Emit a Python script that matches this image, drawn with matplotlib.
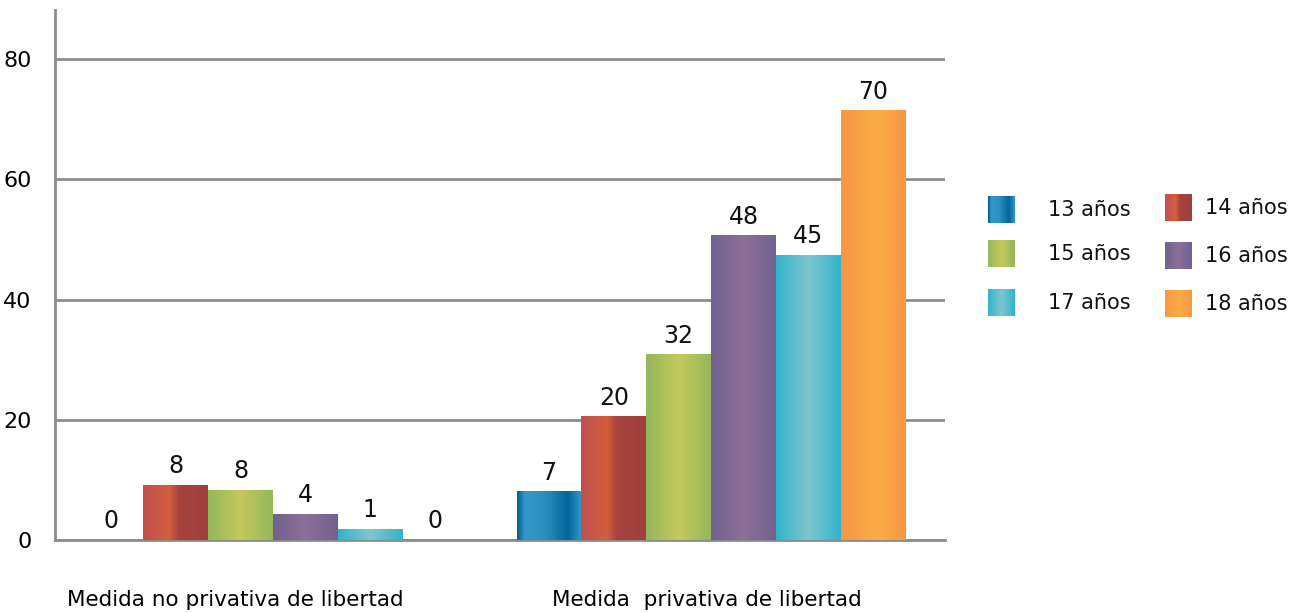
import numpy as np
import matplotlib
matplotlib.use("Agg")
import matplotlib.pyplot as plt
from matplotlib.colors import to_rgb

# Data
categories = ["Medida no privativa de libertad", "Medida  privativa de libertad"]
series = ["13 años", "14 años", "15 años", "16 años", "17 años", "18 años"]
# drawn bar heights (as they appear on the axis)
heights = [
    [0, 9.1, 8.3, 4.3, 1.8, 0],
    [8.0, 20.5, 30.8, 50.6, 47.4, 71.4],
]
# printed values above the bars
labels = [
    ["0", "8", "8", "4", "1", "0"],
    ["7", "20", "32", "48", "45", "70"],
]
yticks = [0, 20, 40, 60, 80]

# Gradient stops per series (position, color)
stops = [
    [(0, "#00608f"), (0.12, "#3399cc"), (0.45, "#2a8dc0"), (0.78, "#006699"), (1, "#3399cc")],
    [(0, "#c0504d"), (0.4, "#d35f3e"), (0.55, "#a8433e"), (1, "#9e403d")],
    [(0, "#95b75a"), (0.5, "#c4c95c"), (1, "#95b75a")],
    [(0, "#72618f"), (0.5, "#8c7098"), (1, "#72618f")],
    [(0, "#31b4cd"), (0.5, "#7fc6cd"), (1, "#31b4cd")],
    [(0, "#f79646"), (0.55, "#fbad48"), (1, "#f79646")],
]


def gradient(stop_list, n=64):
    pos = np.array([s[0] for s in stop_list])
    cols = np.array([to_rgb(s[1]) for s in stop_list])
    t = np.linspace(0, 1, n)
    img = np.stack([np.interp(t, pos, cols[:, k]) for k in range(3)], axis=-1)
    return img[np.newaxis, :, :]


plt.rcParams["font.family"] = ["DejaVu Sans"]
fig = plt.figure(figsize=(13.03, 6.13), dpi=100)
ax = fig.add_axes([55 / 1303, 73 / 613, 890 / 1303, 530 / 613])

bw = 0.148
x = np.arange(len(categories))

for i, name in enumerate(series):
    vals = [heights[g][i] for g in range(len(categories))]
    bars = ax.bar(x + (i - 2.5) * bw, vals, width=bw, color="none", edgecolor="none")
    img = gradient(stops[i])
    for g, b in enumerate(bars):
        h = b.get_height()
        if h > 0:
            ax.imshow(img, extent=[b.get_x(), b.get_x() + b.get_width(), 0, h],
                      aspect="auto", zorder=3)
        ax.annotate(labels[g][i], (b.get_x() + b.get_width() / 2, h),
                    xytext=(0, 5), textcoords="offset points",
                    ha="center", va="bottom", fontsize=17, color="#111111")

ax.set_xlim(-0.498, 1.534)
ax.set_ylim(0, 88.2)
ax.set_yticks(yticks)
ax.yaxis.grid(True, color="#8c8c8c", linewidth=2)
ax.set_axisbelow(True)
ax.tick_params(axis="y", length=0, pad=17, labelsize=16)
ax.set_xticks([-0.087, 0.99])
ax.set_xticklabels(categories, fontsize=15.5)
ax.tick_params(axis="x", length=0, pad=36)
for s in ["top", "right"]:
    ax.spines[s].set_visible(False)
ax.spines["left"].set_color("#8c8c8c")
ax.spines["left"].set_linewidth(2)
ax.spines["bottom"].set_color("#8c8c8c")
ax.spines["bottom"].set_linewidth(2)

# Legend drawn in pixel coordinates
lax = fig.add_axes([0, 0, 1, 1], facecolor="none")
lax.set_xlim(0, 1303)
lax.set_ylim(613, 0)
lax.axis("off")
sq_x = [988, 1165]
sq_y = [[196, 240, 289], [194, 242, 290]]
txt_x = [1048, 1205]
for i, name in enumerate(series):
    col, row = i % 2, i // 2
    y0 = sq_y[col][row]
    lax.imshow(gradient(stops[i]), extent=[sq_x[col], sq_x[col] + 27, y0 + 27, y0],
               aspect="auto")
    lax.text(txt_x[col], y0 + 14, name, fontsize=15, va="center", ha="left", color="#111111")
lax.set_xlim(0, 1303)
lax.set_ylim(613, 0)

fig.savefig("out.png", dpi=100)
